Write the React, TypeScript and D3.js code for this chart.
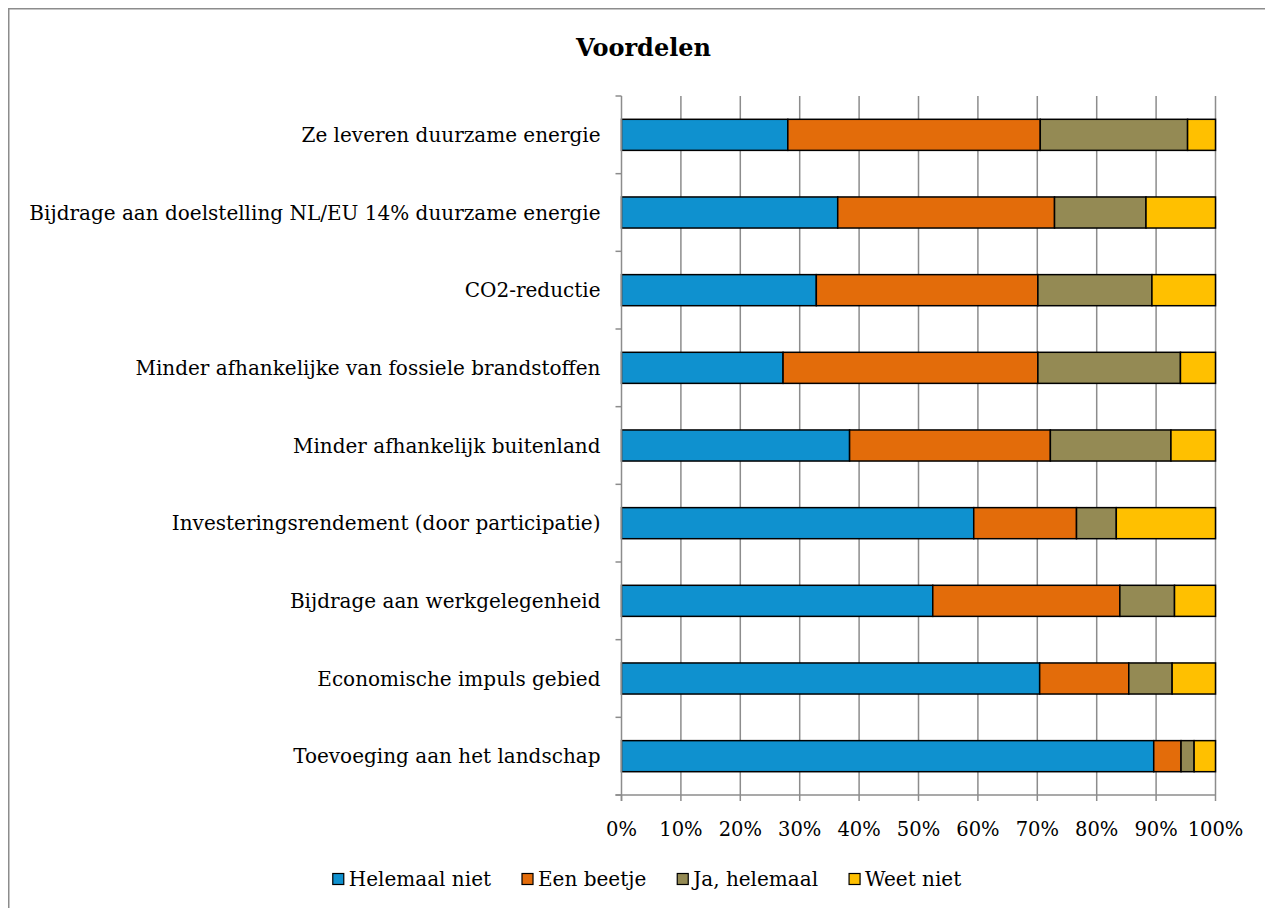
import React, { useEffect, useRef } from "react";
import * as d3 from "d3";

const categories = [
  "Ze leveren duurzame energie",
  "Bijdrage aan doelstelling NL/EU 14% duurzame energie",
  "CO2-reductie",
  "Minder afhankelijke van fossiele brandstoffen",
  "Minder afhankelijk buitenland",
  "Investeringsrendement (door participatie)",
  "Bijdrage aan werkgelegenheid",
  "Economische impuls gebied",
  "Toevoeging aan het landschap",
];

const seriesNames = ["Helemaal niet", "Een beetje", "Ja, helemaal", "Weet niet"];
const helemaalNiet = [28.0, 36.4, 32.8, 27.2, 38.4, 59.3, 52.4, 70.4, 89.6];
const eenBeetje = [42.5, 36.5, 37.3, 42.9, 33.8, 17.3, 31.5, 15.0, 4.6];
const jaHelemaal = [24.8, 15.4, 19.2, 24.0, 20.3, 6.7, 9.2, 7.3, 2.2];
const weetNiet = [4.7, 11.7, 10.7, 5.9, 7.5, 16.7, 6.9, 7.3, 3.6];
const seriesColors = ["#0F91CF", "#E36C0A", "#948A54", "#FFC000"];
const xTicks = [0, 10, 20, 30, 40, 50, 60, 70, 80, 90, 100];
const title = "Voordelen";

const W = 1265;
const H = 900;
const FONT = "'DejaVu Serif', 'Liberation Serif', serif";

export default function App() {
  const ref = useRef<SVGSVGElement>(null);

  useEffect(() => {
    const svg = d3.select(ref.current);
    svg.selectAll("*").remove();

    const left = 613.5, right = 1207.5, top = 88, bottom = 787;

    svg.append("rect")
      .attr("x", 0.75).attr("y", 0.75)
      .attr("width", W + 50).attr("height", H + 50)
      .attr("fill", "#fff").attr("stroke", "#8c8c8c").attr("stroke-width", 1.5);

    svg.append("text")
      .attr("x", 635.5).attr("y", 48)
      .attr("text-anchor", "middle")
      .attr("font-family", FONT).attr("font-weight", "bold")
      .attr("font-size", 24).text(title);

    const x = d3.scaleLinear().domain([0, 100]).range([left, right]);
    const y = d3.scaleBand<string>().domain(categories).range([top, bottom]).paddingInner(0.6).paddingOuter(0.3);
    const band = d3.scaleBand<string>().domain(categories).range([top, bottom]);

    // gridlines
    svg.append("g").selectAll("line").data(xTicks.slice(1)).join("line")
      .attr("x1", (d) => x(d)).attr("x2", (d) => x(d))
      .attr("y1", top).attr("y2", bottom)
      .attr("stroke", "#8c8c8c").attr("stroke-width", 1.5);

    // stacked data
    const rows = categories.map((c, i) => ({
      cat: c,
      "Helemaal niet": helemaalNiet[i],
      "Een beetje": eenBeetje[i],
      "Ja, helemaal": jaHelemaal[i],
      "Weet niet": weetNiet[i],
    }));
    const stack = d3.stack<any>().keys(seriesNames)(rows);

    const g = svg.append("g");
    stack.forEach((s, si) => {
      g.append("g").selectAll("rect").data(s).join("rect")
        .attr("x", (d) => x(d[0]))
        .attr("width", (d) => x(d[1]) - x(d[0]))
        .attr("y", (d) => (y(d.data.cat) as number))
        .attr("height", y.bandwidth())
        .attr("fill", seriesColors[si])
        .attr("stroke", "#000").attr("stroke-width", 1.5);
    });

    // y axis line & ticks
    svg.append("line").attr("x1", left).attr("x2", left).attr("y1", top).attr("y2", bottom + 6)
      .attr("stroke", "#8c8c8c").attr("stroke-width", 1.5);
    const bounds = categories.map((c) => band(c) as number).concat([bottom]);
    svg.append("g").selectAll("line").data(bounds).join("line")
      .attr("x1", left - 6).attr("x2", left).attr("y1", (d) => d).attr("y2", (d) => d)
      .attr("stroke", "#8c8c8c").attr("stroke-width", 1.5);

    // x axis line & ticks
    svg.append("line").attr("x1", left - 6).attr("x2", right).attr("y1", bottom).attr("y2", bottom)
      .attr("stroke", "#8c8c8c").attr("stroke-width", 1.5);
    svg.append("g").selectAll("line").data(xTicks).join("line")
      .attr("x1", (d) => x(d)).attr("x2", (d) => x(d))
      .attr("y1", bottom).attr("y2", bottom + 6)
      .attr("stroke", "#8c8c8c").attr("stroke-width", 1.5);
    svg.append("g").selectAll("text").data(xTicks).join("text")
      .attr("x", (d) => x(d)).attr("y", bottom + 41)
      .attr("text-anchor", "middle")
      .attr("font-family", FONT).attr("font-size", 19.5)
      .text((d) => d + "%");

    // category labels
    svg.append("g").selectAll("text").data(categories).join("text")
      .attr("x", left - 21)
      .attr("y", (d) => (band(d) as number) + band.bandwidth() / 2)
      .attr("dy", "0.35em")
      .attr("text-anchor", "end")
      .attr("font-family", FONT).attr("font-size", 20)
      .text((d) => d);

    // legend
    const lg = svg.append("g");
    const items = seriesNames.map((n, i) => {
      const it = lg.append("g");
      it.append("rect").attr("x", 0).attr("y", -5.5).attr("width", 11).attr("height", 11)
        .attr("fill", seriesColors[i]).attr("stroke", "#000").attr("stroke-width", 1.2);
      const t = it.append("text").attr("x", 16).attr("y", 0).attr("dy", "0.35em")
        .attr("font-family", FONT).attr("font-size", 20).text(n);
      const w = (t.node() as SVGTextElement).getComputedTextLength();
      return { it, w: 16 + w };
    });
    const gap = 31;
    const total = d3.sum(items, (d) => d.w) + gap * (items.length - 1);
    let cx = 639 - total / 2;
    items.forEach((d) => {
      d.it.attr("transform", `translate(${cx},871)`);
      cx += d.w + gap;
    });
  }, []);

  return (
    <svg ref={ref} width={W} height={H} style={{ display: "block" }} />
  );
}
